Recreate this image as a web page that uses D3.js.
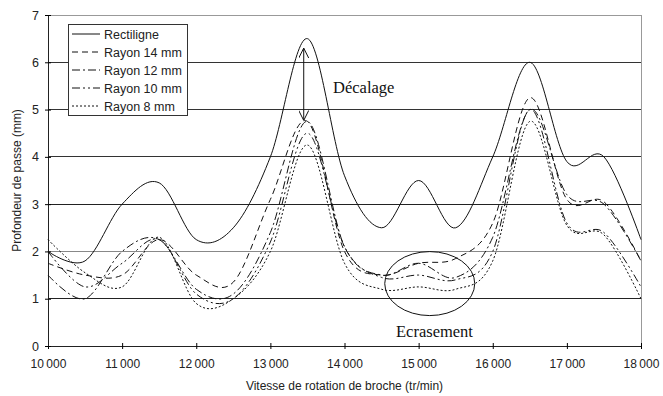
<!DOCTYPE html>
<html><head><meta charset="utf-8">
<script src="https://cdn.jsdelivr.net/npm/d3@7"></script>
<style>body{margin:0;background:#fff}svg{display:block}</style>
</head><body>
<svg id="c" width="663" height="396"></svg>
<script>
const speeds = [10000,10500,11000,11500,12000,12500,13000,13500,14000,14500,15000,15500,16000,16500,17000,17500,18000];
const rectiligne = [2.0,1.8,3.0,3.45,2.25,2.5,4.0,6.5,3.6,2.5,3.5,2.5,4.0,6.0,3.9,4.0,2.25];
const rayon14 = [1.75,1.5,1.5,2.25,1.5,1.35,3.1,4.75,2.0,1.5,1.75,1.85,2.6,5.25,3.1,3.05,1.8];
const rayon12 = [1.5,1.0,2.0,2.25,1.2,1.1,2.4,4.75,2.1,1.5,1.75,1.45,2.3,5.0,3.2,3.0,1.8];
const rayon10 = [2.0,1.25,1.75,2.25,1.1,1.0,2.2,4.5,2.1,1.45,1.5,1.4,2.0,5.0,2.6,2.4,1.25];
const rayon8  = [2.25,1.55,1.25,2.3,0.9,1.0,2.0,4.25,1.75,1.2,1.25,1.2,1.8,4.75,2.55,2.35,1.0];
const seriesNames = ["Rectiligne","Rayon 14 mm","Rayon 12 mm","Rayon 10 mm","Rayon 8 mm"];
const xTicks = [10000,11000,12000,13000,14000,15000,16000,17000,18000];
const yTicks = [0,1,2,3,4,5,6,7];

const series = [rectiligne, rayon14, rayon12, rayon10, rayon8];
const dashes = [null, "6,4", "8,3,2,3", "8,3,2,3,2,3", "2,2"];

const svg = d3.select("#c");
const L = 48, R = 641, T = 15, B = 346;
const x = d3.scaleLinear().domain([10000,18000]).range([L,R]);
const y = d3.scaleLinear().domain([0,7]).range([B,T]);
const fmt = d => d3.format(",")(d).replace(",", "\u2009");

// gridlines
const gridCol = {1:"#222",2:"#888",3:"#222",4:"#333",5:"#333",6:"#333",7:"#999"};
svg.append("g").selectAll("line").data(yTicks.filter(d=>d>0)).join("line")
  .attr("x1",L).attr("x2",R).attr("y1",d=>y(d)).attr("y2",d=>y(d))
  .attr("stroke",d=>gridCol[d]).attr("stroke-width",1).attr("shape-rendering","crispEdges");
// right border
svg.append("line").attr("x1",R).attr("x2",R).attr("y1",T).attr("y2",B)
  .attr("stroke","#999").attr("shape-rendering","crispEdges");

// axes
const font = "'Liberation Sans', Arial, sans-serif";
const gx = svg.append("g").attr("transform",`translate(0,${B})`)
  .call(d3.axisBottom(x).tickValues(xTicks).tickFormat(fmt).tickSizeInner(3).tickSizeOuter(0).tickPadding(10));
gx.selectAll(".tick line").attr("y1",-3);
gx.select(".domain").attr("stroke","#222");
gx.selectAll("text").attr("font-family",font).attr("font-size",12).attr("fill","#222");

const gy = svg.append("g").attr("transform",`translate(${L},0)`)
  .call(d3.axisLeft(y).tickValues(yTicks).tickFormat(d3.format("d")).tickSizeInner(3).tickSizeOuter(0).tickPadding(6));
gy.selectAll(".tick line").attr("x1",3);
gy.select(".domain").attr("stroke","#222");
gy.selectAll("text").attr("font-family",font).attr("font-size",12.5).attr("fill","#222");

// titles
svg.append("text").attr("x",(L+R)/2).attr("y",390).attr("text-anchor","middle")
  .attr("font-family",font).attr("font-size",12).attr("fill","#222")
  .text("Vitesse de rotation de broche (tr/min)");
svg.append("text").attr("transform",`translate(21,${(T+B)/2}) rotate(-90)`).attr("text-anchor","middle")
  .attr("font-family",font).attr("font-size",12).attr("fill","#222")
  .text("Profondeur de passe (mm)");

// lines
const line = d3.line().x((d,i)=>x(speeds[i])).y(d=>y(d)).curve(d3.curveCatmullRom.alpha(0));
svg.append("g").selectAll("path").data(series).join("path")
  .attr("d",d=>line(d)).attr("fill","none").attr("stroke","#111").attr("stroke-width",1)
  .attr("stroke-dasharray",(d,i)=>dashes[i]);

// arrow "Décalage"
const defs = svg.append("defs");
defs.append("marker").attr("id","ah").attr("viewBox","0 0 10 10").attr("refX",10).attr("refY",5)
  .attr("markerWidth",10).attr("markerHeight",10).attr("markerUnits","userSpaceOnUse").attr("orient","auto-start-reverse")
  .append("path").attr("d","M0,0 L10,5 L0,10").attr("fill","none").attr("stroke","#111").attr("stroke-width",1);
svg.append("line").attr("x1",x(13450)).attr("x2",x(13450)).attr("y1",y(6.3)).attr("y2",y(4.77))
  .attr("stroke","#111").attr("stroke-width",1)
  .attr("marker-start","url(#ah)").attr("marker-end","url(#ah)");
svg.append("text").attr("x",333).attr("y",93).attr("font-family","'Liberation Serif','Times New Roman',serif")
  .attr("font-size",16.5).attr("fill","#111").text("Décalage");

// ellipse "Ecrasement"
svg.append("ellipse").attr("cx",x(15150)).attr("cy",y(1.32)).attr("rx",45).attr("ry",32)
  .attr("fill","none").attr("stroke","#111").attr("stroke-width",1);
svg.append("text").attr("x",396).attr("y",337).attr("font-family","'Liberation Serif','Times New Roman',serif")
  .attr("font-size",16.5).attr("fill","#111").text("Ecrasement");

// legend
const lg = svg.append("g");
lg.append("rect").attr("x",68.5).attr("y",24.5).attr("width",119).attr("height",91)
  .attr("fill","#fff").attr("stroke","#333");
const ly = [34,52,70,88,106];
seriesNames.forEach((n,i)=>{
  lg.append("line").attr("x1",72).attr("x2",100).attr("y1",ly[i]).attr("y2",ly[i])
    .attr("stroke","#111").attr("stroke-dasharray",dashes[i]);
  lg.append("text").attr("x",104).attr("y",ly[i]+4.5).attr("font-family",font)
    .attr("font-size",12.5).attr("fill","#222").text(n);
});
</script>
</body></html>
